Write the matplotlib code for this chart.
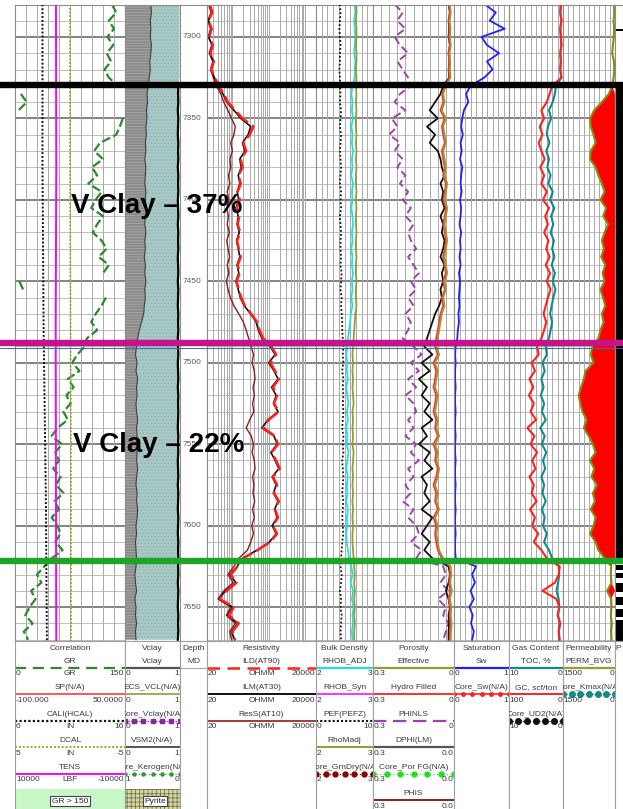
import numpy as np
import matplotlib.pyplot as plt
from matplotlib.patches import Rectangle

plt.rcParams['font.family'] = ['Liberation Sans', 'DejaVu Sans']
plt.rcParams['hatch.linewidth'] = 0.6

W, H = 623, 809
TOP, BOT = 5, 641                 # pixel rows of the log body
D_TOP, D_BOT = 7280.4, 7670.8     # depth shown at those rows (ft MD)

depth = np.arange(7280, 7671, 5)

# ---- curves, sampled every 5 ft -------------------------------------------
gr = [132, 138, 128, 135, 126, 134, 125, 131, 122, 128,
      140, 158, 166, 155, 147, 143, 138, 116, 108, 120,
      105, 112, 100, 118, 110, 104, 120, 112, 106, 118,
      125, 114, 128, 120, 156, 161, 124, 118, 110, 104,
      112, 98, 95, 85, 78, 88, 72, 80, 70, 76,
      66, 72, 58, 50, 64, 55, 60, 52, 62, 56,
      66, 54, 60, 50, 58, 62, 55, 65, 50,
      40, 30, 36, 22, 28, 20, 14, 24, 12, 18]
vclay = [0.47, 0.48, 0.46, 0.47, 0.46, 0.48, 0.47, 0.45, 0.46, 0.44,
         0.42, 0.40, 0.41, 0.39, 0.40, 0.38, 0.39, 0.37, 0.38, 0.36,
         0.38, 0.37, 0.36, 0.38, 0.37, 0.39, 0.37, 0.36, 0.38, 0.36,
         0.37, 0.35, 0.37, 0.36, 0.38, 0.36, 0.37, 0.35, 0.34, 0.30,
         0.26, 0.23, 0.21, 0.19, 0.22, 0.20, 0.23, 0.21, 0.22, 0.20,
         0.21, 0.23, 0.21, 0.22, 0.20, 0.22, 0.21, 0.23, 0.21, 0.20,
         0.22, 0.21, 0.23, 0.22, 0.20, 0.21, 0.19, 0.20, 0.21,
         0.20, 0.18, 0.19, 0.21, 0.18, 0.20, 0.19, 0.21, 0.19, 0.20]
vsm2 = [0.99, 0.99, 0.99, 0.99, 0.99, 0.99, 0.99, 0.99, 0.99, 0.99,
        0.97, 0.965, 0.97, 0.96, 0.97, 0.965, 0.96, 0.97, 0.965, 0.97,
        0.96, 0.97, 0.965, 0.97, 0.96, 0.965, 0.97, 0.96, 0.97, 0.965,
        0.97, 0.96, 0.965, 0.97, 0.96, 0.97, 0.965, 0.96, 0.97, 0.965,
        0.97, 0.96, 0.965, 0.97, 0.96, 0.965, 0.97, 0.96, 0.97, 0.965,
        0.97, 0.965, 0.96, 0.97, 0.965, 0.97, 0.96, 0.965, 0.97, 0.96,
        0.97, 0.965, 0.96, 0.97, 0.965, 0.96, 0.97, 0.965, 0.97,
        0.965, 0.97, 0.96, 0.97, 0.965, 0.96, 0.97, 0.965, 0.97, 0.96]
ild = [24, 28, 22, 27, 23, 29, 25, 31, 26, 33,
       42, 58, 75, 120, 190, 380, 300, 200, 240, 170,
       190, 150, 170, 140, 160, 130, 155, 140, 165, 135,
       150, 170, 140, 160, 130, 150, 175, 220, 330, 480,
       560, 700, 1200, 1600, 1100, 1500, 1900, 1300, 1700, 1400,
       1900, 1000, 700, 1500, 1800, 1200, 1600, 2000, 1300, 1700,
       1400, 1900, 1500, 1800, 1300, 1700, 1100, 500, 200,
       140, 90, 130, 70, 45, 110, 80, 150, 100, 120]
ilm = [23, 27, 22, 26, 22, 28, 24, 30, 26, 32,
       40, 55, 70, 110, 170, 320, 270, 190, 220, 160,
       175, 145, 160, 135, 150, 125, 145, 135, 155, 130,
       145, 160, 135, 150, 125, 145, 165, 210, 320, 450,
       520, 650, 1100, 1500, 1000, 1400, 1800, 1200, 1600, 1350,
       1800, 950, 650, 1400, 1700, 1150, 1500, 1900, 1250, 1600,
       1350, 1800, 1450, 1700, 1250, 1600, 1050, 480, 190,
       135, 85, 125, 65, 42, 100, 75, 140, 95, 115]
ress = [22, 26, 21, 25, 22, 27, 23, 29, 25, 30,
        36, 48, 58, 75, 95, 120, 110, 90, 100, 85,
        90, 78, 85, 72, 80, 70, 78, 72, 82, 70,
        76, 84, 72, 80, 68, 76, 88, 110, 150, 200,
        240, 280, 330, 380, 350, 400, 420, 370, 400, 360,
        390, 300, 240, 330, 380, 350, 400, 420, 360, 390,
        370, 410, 360, 400, 340, 380, 320, 260, 150,
        110, 75, 105, 58, 40, 90, 68, 120, 85, 95]
rhob = [2.68, 2.69, 2.67, 2.68, 2.69, 2.68, 2.67, 2.69, 2.68, 2.68,
        2.64, 2.62, 2.64, 2.63, 2.65, 2.62, 2.64, 2.63, 2.65, 2.63,
        2.64, 2.62, 2.65, 2.63, 2.64, 2.62, 2.64, 2.65, 2.63, 2.64,
        2.62, 2.64, 2.63, 2.65, 2.63, 2.64, 2.62, 2.64, 2.61, 2.60,
        2.58, 2.56, 2.55, 2.53, 2.55, 2.54, 2.56, 2.53, 2.55, 2.57,
        2.54, 2.56, 2.53, 2.55, 2.54, 2.57, 2.55, 2.53, 2.56, 2.54,
        2.55, 2.53, 2.56, 2.54, 2.55, 2.53, 2.54, 2.56, 2.58,
        2.62, 2.64, 2.61, 2.65, 2.63, 2.66, 2.64, 2.65, 2.63, 2.64]
rhomadj = [2.71, 2.71, 2.70, 2.71, 2.71, 2.70, 2.71, 2.71, 2.70, 2.71,
           2.70, 2.71, 2.70, 2.71, 2.70, 2.70, 2.71, 2.70, 2.71, 2.70,
           2.71, 2.70, 2.70, 2.71, 2.70, 2.71, 2.70, 2.70, 2.71, 2.70,
           2.70, 2.71, 2.70, 2.70, 2.71, 2.70, 2.70, 2.71, 2.69, 2.68,
           2.67, 2.66, 2.65, 2.64, 2.65, 2.64, 2.65, 2.64, 2.65, 2.66,
           2.64, 2.65, 2.64, 2.65, 2.64, 2.66, 2.65, 2.64, 2.65, 2.64,
           2.65, 2.64, 2.65, 2.64, 2.65, 2.64, 2.64, 2.65, 2.66,
           2.67, 2.68, 2.67, 2.68, 2.67, 2.68, 2.67, 2.68, 2.67, 2.67]
pef = [4.2, 4.3, 4.2, 4.1, 4.2, 4.3, 4.2, 4.2, 4.1, 4.2,
       4.2, 4.3, 4.2, 4.4, 4.3, 4.2, 4.4, 4.3, 4.2, 4.3,
       4.4, 4.3, 4.2, 4.4, 4.3, 4.4, 4.2, 4.3, 4.4, 4.3,
       4.3, 4.4, 4.3, 4.5, 4.4, 4.3, 4.5, 4.4, 4.5, 4.6,
       4.6, 4.7, 4.8, 4.7, 4.8, 4.6, 4.8, 4.7, 4.8, 4.7,
       4.8, 4.7, 4.6, 4.8, 4.7, 4.8, 4.6, 4.7, 4.8, 4.7,
       4.6, 4.8, 4.7, 4.6, 4.7, 4.8, 4.6, 4.5, 4.4,
       4.3, 4.5, 4.4, 4.2, 4.4, 4.3, 4.5, 4.4, 4.3, 4.4]
phie = [0.015, 0.012, 0.016, 0.013, 0.015, 0.012, 0.016, 0.014, 0.015, 0.013,
        0.030, 0.040, 0.035, 0.045, 0.030, 0.040, 0.035, 0.030, 0.040, 0.035,
        0.030, 0.035, 0.025, 0.030, 0.035, 0.025, 0.030, 0.035, 0.030, 0.025,
        0.030, 0.035, 0.030, 0.025, 0.035, 0.030, 0.040, 0.035, 0.045, 0.050,
        0.055, 0.060, 0.065, 0.055, 0.070, 0.060, 0.065, 0.070, 0.060, 0.065,
        0.070, 0.060, 0.065, 0.055, 0.070, 0.060, 0.065, 0.055, 0.060, 0.070,
        0.060, 0.065, 0.055, 0.070, 0.060, 0.065, 0.060, 0.055, 0.040,
        0.012, 0.010, 0.014, 0.008, 0.015, 0.010, 0.012, 0.009, 0.011, 0.012]
phi_hydro = [0.018, 0.016, 0.019, 0.017, 0.018, 0.016, 0.020, 0.018, 0.019, 0.017,
             0.034, 0.044, 0.040, 0.050, 0.035, 0.045, 0.040, 0.034, 0.045, 0.040,
             0.034, 0.040, 0.030, 0.034, 0.040, 0.030, 0.034, 0.040, 0.034, 0.030,
             0.034, 0.040, 0.034, 0.030, 0.040, 0.034, 0.045, 0.040, 0.050, 0.055,
             0.060, 0.066, 0.070, 0.060, 0.076, 0.066, 0.070, 0.076, 0.066, 0.070,
             0.076, 0.066, 0.070, 0.060, 0.076, 0.066, 0.070, 0.060, 0.066, 0.076,
             0.066, 0.070, 0.060, 0.076, 0.066, 0.070, 0.066, 0.060, 0.045,
             0.016, 0.014, 0.018, 0.013, 0.020, 0.014, 0.016, 0.013, 0.015, 0.016]
phinls = [0.22, 0.19, 0.21, 0.18, 0.22, 0.20, 0.17, 0.21, 0.19, 0.17,
          0.16, 0.20, 0.22, 0.18, 0.23, 0.21, 0.24, 0.20, 0.22, 0.19,
          0.21, 0.18, 0.20, 0.17, 0.19, 0.16, 0.18, 0.15, 0.17, 0.16,
          0.14, 0.17, 0.15, 0.13, 0.16, 0.14, 0.17, 0.15, 0.18, 0.16,
          0.17, 0.19, 0.15, 0.12, 0.16, 0.13, 0.17, 0.14, 0.18, 0.15,
          0.14, 0.17, 0.15, 0.18, 0.14, 0.16, 0.13, 0.17, 0.15, 0.18,
          0.16, 0.19, 0.15, 0.17, 0.14, 0.13, 0.16, 0.12, 0.14,
          0.04, 0.03, 0.05, 0.02, 0.06, 0.03, 0.04, 0.02, 0.03, 0.04]
dphi = [0.020, 0.015, 0.020, 0.018, 0.020, 0.015, 0.020, 0.017, 0.020, 0.018,
        0.040, 0.050, 0.070, 0.090, 0.060, 0.100, 0.070, 0.090, 0.060, 0.050,
        0.045, 0.035, 0.050, 0.040, 0.045, 0.035, 0.050, 0.040, 0.045, 0.035,
        0.040, 0.050, 0.035, 0.045, 0.040, 0.050, 0.045, 0.055, 0.070, 0.080,
        0.090, 0.100, 0.110, 0.080, 0.120, 0.090, 0.130, 0.100, 0.120, 0.090,
        0.110, 0.080, 0.120, 0.100, 0.130, 0.090, 0.110, 0.080, 0.120, 0.100,
        0.110, 0.090, 0.120, 0.080, 0.100, 0.120, 0.090, 0.110, 0.080,
        0.020, 0.015, 0.020, 0.030, 0.020, 0.015, 0.020, 0.018, 0.020, 0.020]
sw = [0.56, 0.76, 0.65, 0.92, 0.50, 0.60, 0.82, 0.60, 0.70, 0.55,
      0.30, 0.22, 0.26, 0.18, 0.15, 0.13, 0.16, 0.12, 0.14, 0.11,
      0.15, 0.13, 0.12, 0.14, 0.11, 0.13, 0.12, 0.10, 0.13, 0.11,
      0.12, 0.10, 0.12, 0.09, 0.11, 0.10, 0.09, 0.10, 0.08, 0.09,
      0.07, 0.06, 0.03, 0.02, 0.03, 0.02, 0.02, 0.03, 0.02, 0.02,
      0.03, 0.02, 0.02, 0.03, 0.02, 0.02, 0.03, 0.02, 0.02, 0.03,
      0.02, 0.02, 0.03, 0.02, 0.02, 0.03, 0.02, 0.02, 0.03,
      0.40, 0.33, 0.38, 0.30, 0.36, 0.28, 0.34, 0.31, 0.36, 0.33]
toc = [0.4, 0.5, 0.3, 0.5, 0.4, 0.3, 0.5, 0.4, 0.5, 0.3,
       1.3, 1.5, 1.9, 2.6, 2.2, 2.8, 3.0, 2.5, 3.1, 2.6,
       2.9, 2.3, 2.7, 1.9, 2.4, 1.6, 2.2, 1.8, 2.3, 1.7,
       2.0, 1.6, 2.1, 1.5, 1.9, 1.4, 1.8, 2.1, 2.4, 2.0,
       2.3, 2.6, 3.2, 3.0, 3.8, 3.4, 4.0, 3.6, 4.1, 3.5,
       3.9, 3.2, 4.2, 3.4, 3.9, 3.1, 3.7, 3.3, 4.0, 3.5,
       3.8, 3.2, 3.9, 3.4, 3.7, 3.0, 3.5, 2.6, 2.0,
       0.8, 0.7, 0.9, 1.2, 0.8, 0.7, 0.9, 0.6, 0.8, 0.7]
gc = [4, 5, 3, 5, 4, 3, 5, 4, 5, 3,
      20, 25, 30, 40, 35, 43, 38, 45, 40, 34,
      42, 35, 40, 30, 37, 26, 33, 28, 35, 27,
      31, 25, 32, 24, 30, 23, 28, 32, 36, 31,
      35, 40, 48, 45, 58, 52, 62, 55, 63, 54,
      60, 50, 66, 53, 60, 48, 57, 51, 62, 54,
      58, 49, 61, 52, 57, 46, 54, 40, 30,
      6, 8, 15, 38, 12, 7, 10, 5, 8, 6]
perm = [30, 20, 40, 25, 35, 60, 80, 30, 20, 40,
        80, 180, 380, 600, 720, 700, 620, 560, 700, 720,
        560, 480, 380, 300, 420, 260, 340, 200, 300, 380,
        320, 400, 280, 360, 300, 420, 350, 280, 380, 330,
        420, 480, 650, 700, 620, 850, 900, 980, 1050, 1000,
        940, 820, 900, 760, 640, 560, 720, 600, 680, 520,
        640, 580, 700, 560, 620, 720, 560, 480, 300,
        110, 120, 100, 230, 110, 100, 120, 90, 110, 100]

# slowly varying borehole curves, sparse stations
station_depth = [7280, 7380, 7480, 7580, 7671]
cali = [8.5, 8.5, 8.6, 8.8, 8.9]
dcal = [0.0, 0.0, -0.05, -0.1, -0.1]
tens = [2550, 2500, 2600, 2550, 2500]

# flag intervals in the right-most column
flag_top = [7295.0, 7330.0, 7624.0, 7629.0, 7635.0, 7644.0, 7651.0, 7658.0]
flag_base = [7296.5, 7621.0, 7627.0, 7632.0, 7641.0, 7649.0, 7656.0, 7671.0]

# formation tops
tops = [7329.8, 7487.6, 7621.4]
top_colors = ['#000000', '#c4148c', '#1ea528']

fig = plt.figure(figsize=(W / 100, H / 100), dpi=100)


def body(x0, x1, lo=0.0, hi=1.0, ndiv=10, log=False, grid=True):
    ax = fig.add_axes([x0 / W, 1 - BOT / H, (x1 - x0) / W, (BOT - TOP) / H])
    if log:
        ax.set_xscale('log')
    ax.set_xlim(lo, hi)
    ax.set_ylim(D_BOT, D_TOP)
    ax.tick_params(which='both', length=0, labelbottom=False, labelleft=False)
    for s in ax.spines.values():
        s.set_color('#8c8c8c')
        s.set_linewidth(0.8)
    if grid:
        for d in range(7290, 7671, 10):
            major = d % 50 == 0
            ax.axhline(d, color='#7a7a7a' if major else '#bdbdbd',
                       lw=1.3 if major else 0.7, zorder=0)
        if log:
            xs = [m * 10 ** e for e in range(1, 5) for m in range(1, 10)]
            xs = [v for v in xs if lo < v < hi]
        else:
            xs = np.linspace(lo, hi, ndiv + 1)[1:-1]
        for v in xs:
            ax.axvline(v, color='#a9a9a9', lw=0.7, zorder=0)
    return ax


def twin(ax, lo, hi):
    t = ax.twiny()
    t.set_xlim(lo, hi)
    t.set_ylim(D_BOT, D_TOP)
    t.axis('off')
    return t


dep = depth
gr = np.asarray(gr, float)

# Correlation
ax = body(15, 125, 0, 150)
twin(ax, 6, 16).plot(cali, station_depth, color='#111111', ls=(0, (1, 1)), lw=1.4)
twin(ax, 10000, -10000).plot(tens, station_depth, color='#ff00ff', lw=1.4)
twin(ax, 5, -5).plot(dcal, station_depth, color='#a3a32a', ls=(0, (1, 1)), lw=1.3)
ax.plot(np.where(gr <= 150, gr, np.nan), dep, color='#2a8a2a', ls=(0, (4, 1.5)), lw=1.6)
ax.plot(np.where(gr > 150, gr - 150, np.nan), dep, color='#2a8a2a', ls=(0, (4, 1.5)), lw=1.6)

# Vclay
ax = body(125, 180, grid=False)
ax.fill_betweenx(dep, 0, vclay, facecolor='#8a8a8a', edgecolor='#ababab', hatch='------', lw=0)
ax.fill_betweenx(dep, vclay, vsm2, facecolor='#a8c9c6', edgecolor='#8fb2af', hatch='.....', lw=0)
ax.plot(vclay, dep, color='#3c3c3c', lw=0.8)
ax.plot(np.where(dep >= 7330, vsm2, np.nan), dep, color='black', lw=1.6)

# Depth
ax = body(180, 207, grid=False)
for d in range(7300, 7651, 50):
    ax.text(0.46, d, str(d), ha='center', va='center', fontsize=6, color='#5a5a5a')

# Resistivity
ax = body(207, 316, 20, 20000, log=True)
ax.plot(ress, dep, color='#8b1c1c', lw=1.0)
ax.plot(ilm, dep, color='#111111', lw=1.2)
ax.plot(ild, dep, color='#ff1f1f', ls=(0, (6, 2)), lw=1.8)

# Bulk density
ax = body(316, 373, 2, 3)
twin(ax, 0, 10).plot(pef, dep, color='#111111', ls=(0, (1, 1.2)), lw=1.3)
ax.plot(rhob, dep, color='#1ee0e0', lw=1.3)
ax.plot(rhomadj, dep, color='#9a9a30', lw=1.3)

# Porosity
ax = body(373, 454, 0.3, 0.0)
ax.plot(phinls, dep, color='#a040b0', ls=(0, (4, 2)), lw=1.4)
ax.plot(dphi, dep, color='#111111', lw=1.3)
ax.plot(phi_hydro, dep, color='#ff3030', lw=1.3)
ax.plot(phie, dep, color='#9a9a30', lw=1.3)

# Saturation
ax = body(454, 509, 0, 1)
ax.plot(sw, dep, color='#2020ff', lw=1.3)

# Gas content
ax = body(509, 563, 10, 0)
twin(ax, 100, 0).plot(gc, dep, color='#ff2020', lw=1.5)
ax.plot(toc, dep, color='#108a8a', lw=1.5)

# Permeability
ax = body(563, 615, 1500, 0)
perm = np.asarray(perm, float)
ax.fill_betweenx(dep, perm, 0, where=perm > 150, interpolate=True, color='#ff0000', lw=0)
ax.plot(perm, dep, color='#8a8a10', lw=1.5)

# flag column
ax = body(615, 623, grid=False)
for t, b in zip(flag_top, flag_base):
    ax.axhspan(t, b, color='black', lw=0)

# tops and annotations across all tracks
over = fig.add_axes([0, 1 - BOT / H, 1, (BOT - TOP) / H], zorder=10)
over.set_xlim(0, W)
over.set_ylim(D_BOT, D_TOP)
over.axis('off')
for d, c in zip(tops, top_colors):
    over.axhline(d, color=c, lw=4.6)
over.axhline(7491.0, color='#2f6fb0', lw=0.7)
over.text(156.5, 7408.0, 'V Clay \u2013 37%', ha='center', va='baseline',
          fontsize=20, fontweight='bold', color='black')
over.text(158.5, 7554.8, 'V Clay \u2013 22%', ha='center', va='baseline',
          fontsize=20, fontweight='bold', color='black')

# ---- header ---------------------------------------------------------------
dots = dict(ls=(0, (1, 2)), lw=0.8, marker='o')
header_tracks = [
    (15, 125, 'Correlation', [
        ('GR', '#2a8a2a', dict(ls=(0, (5, 3)), lw=1.6), '0', 'GR', '150'),
        ('SP(N/A)', '#ff3b3b', dict(lw=1.2), '-100.000', '', '50.0000'),
        ('CALI(HCAL)', '#111111', dict(ls=(0, (1, 1)), lw=1.6), '6', 'IN', '16'),
        ('DCAL', '#a3a32a', dict(ls=(0, (1, 1)), lw=1.4), '5', 'IN', '-5'),
        ('TENS', '#ff00ff', dict(lw=1.4), '10000', 'LBF', '-10000')]),
    (125, 180, 'Vclay', [
        ('Vclay', '#555555', dict(lw=1.6), '0', '', '1'),
        ('ECS_VCL(N/A)', '#9a9a30', dict(lw=1.2), '0', '', '1'),
        ('Core_Vclay(N/A)', '#8a2a9a', dict(ls=(0, (1, 1)), lw=1.0, marker='s', ms=3), '0', '', '1'),
        ('VSM2(N/A)', '#555555', dict(lw=1.4), '0', '', '1'),
        ('Core_Kerogen(N/A)', '#2a9a2a', dict(dots, ms=2.2), '1', '', '0')]),
    (180, 207, 'Depth', [
        ('MD', '#a8a8a8', dict(lw=0.8), '', '', '')]),
    (207, 316, 'Resistivity', [
        ('ILD(AT90)', '#ff1f1f', dict(ls=(0, (5, 3)), lw=1.8), '20', 'OHMM', '20000'),
        ('ILM(AT30)', '#111111', dict(lw=1.4), '20', 'OHMM', '20000'),
        ('ResS(AT10)', '#8b1c1c', dict(lw=1.2), '20', 'OHMM', '20000')]),
    (316, 373, 'Bulk Density', [
        ('RHOB_ADJ', '#1ee0e0', dict(lw=1.6), '2', '', '3'),
        ('RHOB_Syn', '#ff33ff', dict(lw=1.4), '2', '', '3'),
        ('PEF(PEFZ)', '#111111', dict(ls=(0, (1, 1)), lw=1.5), '0', '', '10'),
        ('RhoMadj', '#9a9a30', dict(lw=1.4), '2', '', '3'),
        ('Core_GrnDry(N/A)', '#8b0000', dict(dots, ms=3.5), '2', '', '3')]),
    (373, 454, 'Porosity', [
        ('Effective', '#9a9a30', dict(lw=1.6), '0.3', '', '0'),
        ('Hydro Filled', '#ff3030', dict(lw=1.4), '0.3', '', '0'),
        ('PHINLS', '#a040b0', dict(ls=(0, (6, 3)), lw=1.6), '0.3', '', '0'),
        ('DPHI(LM)', '#555555', dict(lw=1.6), '0.3', '', '0.0'),
        ('Core_Por FG(N/A)', '#22dd22', dict(dots, ms=3.5), '0.3', '', '0.0'),
        ('PHIS', '#8b2020', dict(lw=1.4), '0.3', '', '0.0')]),
    (454, 509, 'Saturation', [
        ('Sw', '#2020ff', dict(lw=1.6), '0', '', '1'),
        ('Core_Sw(N/A)', '#ff2020', dict(lw=1.2, marker='o', ms=2.5), '0', '', '1')]),
    (509, 563, 'Gas Content', [
        ('TOC, %', '#108a8a', dict(lw=1.6), '10', '', '0'),
        ('GC, scf/ton', '#ff2020', dict(lw=1.4), '100', '', '0'),
        ('Core_UD2(N/A)', '#111111', dict(dots, ms=4), '10', '', '0')]),
    (563, 615, 'Permeability', [
        ('PERM_BVG', '#9a9a30', dict(lw=1.6), '1500', '', '0'),
        ('Core_Kmax(N/A)', '#108a8a', dict(dots, ms=4), '1500', '', '0')]),
]

txt = dict(fontsize=6, color='#3a3a3a', clip_on=True)
for x0, x1, title, rows in header_tracks + [(615, 623, '', [])]:
    hx = fig.add_axes([x0 / W, 0, (x1 - x0) / W, (H - BOT) / H])
    hx.set_xlim(0, 1)
    hx.set_ylim(H, BOT)
    hx.set_xticks([])
    hx.set_yticks([])
    hx.spines['bottom'].set_visible(False)
    for side in ('left', 'right', 'top'):
        hx.spines[side].set_color('#a0a0a0')
        hx.spines[side].set_linewidth(0.8)
    hx.text(0.5, 648, title, ha='center', va='center', **txt)
    for k, (name, color, style, lo, unit, hi) in enumerate(rows):
        y = 661 + 26.5 * k
        hx.text(0.5, y, name, ha='center', va='center', **txt)
        xs = np.linspace(0, 1, 7) if 'marker' in style else [0, 1]
        hx.plot(xs, [y + 6.5] * len(xs), color=color, clip_on=True, **style)
        hx.text(0.01, y + 12.5, lo, ha='left', va='center', **txt)
        hx.text(0.5, y + 12.5, unit, ha='center', va='center', **txt)
        hx.text(0.99, y + 12.5, hi, ha='right', va='center', **txt)
    if title == 'Correlation':
        hx.add_patch(Rectangle((0, 789), 1, 20, facecolor='#c8f7c8', edgecolor='none'))
        hx.text(0.5, 801, 'GR > 150', ha='center', va='center', fontsize=6, color='#222222',
                bbox=dict(facecolor='white', edgecolor='#444444', pad=1.2, lw=0.8))
    if title == 'Vclay':
        hx.add_patch(Rectangle((0, 789), 1, 20, facecolor='#d6d6a8', edgecolor='#77774a',
                               hatch='++++', lw=0))
        hx.text(0.55, 801, 'Pyrite', ha='center', va='center', fontsize=6, color='#222222',
                bbox=dict(facecolor='white', edgecolor='#444444', pad=1.0, lw=0.8))
    if title == '':
        hx.text(0.1, 648, 'P', ha='left', va='center', **txt)

fig.savefig('out.png', dpi=100)
